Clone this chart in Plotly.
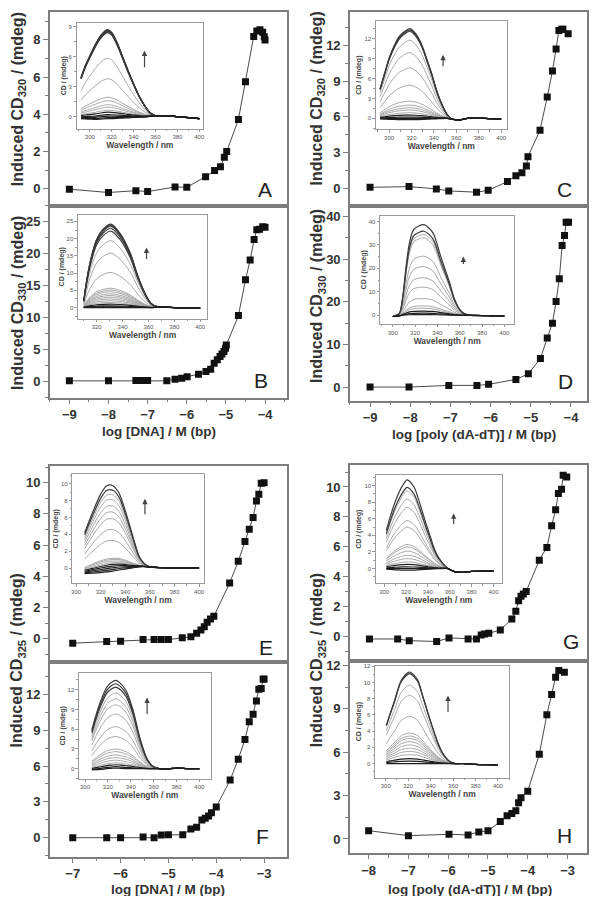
import plotly.graph_objects as go

# page has an 8px body margin; figure is drawn inside it
PAGE_W, PAGE_H = 603, 904
OFF = 8
W, H = PAGE_W - 2 * OFF, PAGE_H - 2 * OFF

# ---------------- main titration data ----------------
A_x = [-9.0, -8.0, -7.3, -7.0, -6.3, -6.0, -5.52, -5.29, -5.14, -5.04, -4.98, -4.68, -4.5, -4.29, -4.21, -4.13, -4.06, -4.02, -4.0]
A_y = [-0.02, -0.2, -0.1, -0.15, 0.1, 0.08, 0.65, 0.98, 1.18, 1.7, 2.0, 3.73, 5.75, 8.19, 8.48, 8.55, 8.41, 8.17, 8.0]

B_x = [-9.0, -8.0, -7.3, -7.15, -7.0, -6.51, -6.3, -6.13, -5.99, -5.7, -5.51, -5.39, -5.3, -5.22, -5.15, -5.1, -5.05, -5.01, -4.99, -4.68, -4.5, -4.38, -4.28, -4.21, -4.14, -4.06, -4.0]
B_y = [0.1, 0.1, 0.15, 0.15, 0.15, 0.1, 0.36, 0.5, 0.75, 1.15, 1.56, 1.93, 2.87, 3.4, 3.9, 4.3, 4.7, 5.2, 5.7, 10.3, 15.9, 19.0, 22.2, 23.7, 23.8, 24.2, 24.1]

C_x = [-9.0, -8.03, -7.35, -7.04, -6.35, -6.06, -5.58, -5.37, -5.22, -5.11, -5.07, -4.77, -4.59, -4.46, -4.37, -4.3, -4.23, -4.2, -4.07]
C_y = [0.08, 0.14, -0.05, -0.22, -0.33, -0.17, 0.56, 1.06, 1.31, 1.87, 2.65, 4.88, 7.67, 9.85, 11.7, 13.25, 13.35, 13.35, 12.97]

D_x = [-9.0, -8.03, -7.04, -6.34, -6.05, -5.37, -5.06, -4.76, -4.59, -4.46, -4.37, -4.29, -4.22, -4.16, -4.12, -4.06]
D_y = [0.0, 0.0, 0.39, 0.39, 0.63, 1.8, 3.1, 6.7, 11.5, 15.0, 20.1, 25.4, 33.2, 35.6, 38.7, 38.7]

E_x = [-7.0, -6.29, -6.0, -5.53, -5.3, -5.15, -5.0, -4.71, -4.53, -4.41, -4.32, -4.25, -4.19, -4.12, -4.05, -3.72, -3.54, -3.4, -3.31, -3.23, -3.16, -3.11, -3.06, -3.0]
E_y = [-0.28, -0.17, -0.15, -0.05, -0.05, -0.05, -0.05, 0.06, 0.13, 0.36, 0.57, 0.78, 1.06, 1.27, 1.44, 3.58, 4.96, 6.23, 7.02, 7.77, 8.83, 9.26, 9.96, 10.0]

F_x = [-7.0, -6.29, -6.0, -5.53, -5.3, -5.15, -5.0, -4.7, -4.53, -4.41, -4.3, -4.23, -4.16, -4.1, -4.0, -3.71, -3.54, -3.4, -3.31, -3.23, -3.16, -3.11, -3.06, -3.02, -3.0]
F_y = [0.0, 0.0, 0.0, 0.05, 0.0, 0.22, 0.25, 0.25, 0.73, 0.87, 1.48, 1.62, 1.82, 2.1, 2.57, 4.83, 6.58, 8.23, 9.71, 10.35, 11.46, 12.44, 12.5, 13.28, 13.3]

G_x = [-7.98, -7.27, -6.98, -6.29, -5.98, -5.5, -5.29, -5.17, -5.09, -4.98, -4.69, -4.4, -4.3, -4.23, -4.17, -4.11, -4.04, -3.71, -3.52, -3.4, -3.3, -3.23, -3.15, -3.11, -3.02]
G_y = [-0.16, -0.16, -0.27, -0.33, -0.09, -0.16, -0.16, 0.11, 0.18, 0.22, 0.44, 1.18, 1.69, 2.4, 2.69, 2.84, 3.02, 5.11, 5.96, 7.4, 8.47, 9.56, 9.84, 10.78, 10.67]

H_x = [-8.0, -7.0, -5.98, -5.5, -5.23, -5.0, -4.69, -4.52, -4.4, -4.3, -4.23, -4.17, -4.0, -3.71, -3.52, -3.4, -3.3, -3.22, -3.08]
H_y = [0.57, 0.23, 0.32, 0.28, 0.48, 0.57, 1.2, 1.61, 1.77, 1.95, 2.5, 2.85, 3.31, 5.86, 8.6, 10.0, 11.19, 11.66, 11.54]

# ---------------- inset CD spectra (normalised band shape, baseline, peak heights) ----------------
wl_A = [292, 296, 300, 305, 310, 316, 320, 325, 330, 335, 340, 345, 350, 355, 360, 370, 380, 390, 400]
prof_A = [0.46, 0.6, 0.71, 0.84, 0.94, 1.0, 0.97, 0.85, 0.69, 0.53, 0.38, 0.24, 0.13, 0.04, 0.0, 0.0, 0.0, 0.0, 0.0]
base_A = [-0.1, -0.1, -0.1, -0.1, -0.05, 0.0, 0.0, 0.0, 0.0, 0.0, 0.0, 0.0, 0.0, 0.05, 0.1, 0.1, 0.0, -0.1, -0.2]
amp_A = [8.7, 8.65, 8.6, 8.55, 8.5, 8.4, 5.85, 3.8, 1.95, 1.6, 1.2, 0.95, 0.65, 0.45, 0.2, 0.05, -0.1, -0.2]

wl_B = [310, 312, 315, 320, 325, 331, 338, 346, 352, 358, 362, 366, 370, 380, 390, 400]
prof_B = [0.08, 0.3, 0.55, 0.82, 0.94, 1.0, 0.89, 0.65, 0.37, 0.15, 0.05, 0.01, 0.0, 0.0, 0.0, 0.0]
base_B = [0.0, 0.0, 0.0, 0.0, 0.0, 0.0, 0.0, 0.0, 0.0, 0.0, 0.0, 0.1, 0.2, 0.0, -0.1, -0.2]
amp_B = [24.2, 24.0, 23.6, 23.0, 22.2, 19.4, 15.8, 10.2, 5.6, 5.1, 4.6, 4.0, 3.5, 3.0, 2.5, 2.0, 1.5, 1.0, 0.5, 0.2, 0.0]

wl_C = [292, 296, 300, 305, 309, 314, 318.5, 324, 329.5, 334, 338.5, 342, 346, 352, 356, 362, 370, 380, 390, 400]
prof_C = [0.33, 0.5, 0.67, 0.82, 0.91, 0.97, 1.0, 0.94, 0.81, 0.65, 0.48, 0.33, 0.19, 0.04, 0.0, 0.0, 0.0, 0.0, 0.0, 0.0]
base_C = [0.0, 0.0, 0.0, 0.0, 0.0, 0.0, 0.0, 0.0, 0.0, 0.0, 0.0, 0.0, 0.0, 0.0, -0.1, -0.25, 0.0, 0.1, -0.05, -0.1]
amp_C = [13.5, 13.3, 13.1, 11.75, 9.9, 7.6, 5.0, 2.6, 2.0, 1.6, 1.26, 0.85, 0.5, 0.2, 0.0, -0.2]

wl_D = [300, 306, 309, 312, 315, 319, 328, 336, 343, 351, 355, 360, 364, 370, 380, 390, 400]
prof_D = [0.0, 0.03, 0.21, 0.54, 0.8, 0.95, 1.0, 0.91, 0.65, 0.36, 0.19, 0.065, 0.02, 0.0, 0.0, 0.0, 0.0]
base_D = [-0.5, -0.3, 0.0, 0.0, 0.0, 0.0, 0.0, 0.0, 0.0, 0.0, 0.0, 0.0, 0.0, 0.0, -0.1, -0.2, -0.3]
amp_D = [38.6, 35.8, 34.4, 33.0, 25.2, 20.7, 16.0, 12.0, 7.1, 4.0, 3.0, 1.8, 0.9, 0.3]

wl_E = [307, 310, 315, 320, 325, 330, 335, 340, 346, 351, 355, 360, 370, 380, 390, 400]
prof_E = [0.47, 0.58, 0.75, 0.9, 0.99, 0.98, 0.88, 0.67, 0.37, 0.13, 0.04, 0.0, 0.0, 0.0, 0.0, 0.0]
base_E = [-0.5, -0.45, -0.35, -0.25, -0.15, -0.05, 0.05, 0.1, 0.15, 0.2, 0.2, 0.15, 0.05, 0.0, 0.0, 0.0]
amp_E = [10.0, 9.45, 8.9, 8.3, 7.55, 6.8, 6.0, 4.7, 3.4, 1.25, 1.1, 0.9, 0.7, 0.5, 0.3, 0.1, -0.1, -0.3]

wl_F = [306, 310, 314, 319, 323, 327, 331, 336, 342, 348, 354, 359, 365, 370, 380, 390, 400]
prof_F = [0.46, 0.64, 0.79, 0.93, 0.98, 1.0, 0.97, 0.89, 0.67, 0.35, 0.12, 0.03, 0.0, 0.0, 0.0, 0.0, 0.0]
base_F = [-0.2, -0.15, -0.1, 0.0, 0.05, 0.1, 0.05, 0.0, 0.0, 0.0, 0.0, 0.0, 0.0, -0.05, 0.1, 0.0, 0.0]
amp_F = [13.3, 12.8, 12.3, 11.4, 10.5, 9.6, 8.2, 6.3, 4.8, 2.9, 2.5, 2.0, 1.6, 1.2, 0.8, 0.5, 0.2, 0.0]

wl_G = [302, 306, 310.6, 316.6, 321, 327.3, 331, 334.8, 338.5, 342.5, 346, 350, 357.5, 365, 372, 380, 390, 400]
prof_G = [0.43, 0.6, 0.77, 0.93, 1.0, 0.92, 0.8, 0.65, 0.5, 0.35, 0.22, 0.12, 0.01, 0.0, 0.0, 0.0, 0.0, 0.0]
base_G = [0.0, 0.0, 0.0, 0.0, 0.0, 0.0, 0.0, 0.0, 0.0, 0.0, 0.0, 0.0, 0.0, -0.4, -0.45, -0.35, -0.3, -0.3]
amp_G = [10.7, 9.8, 9.4, 8.4, 7.4, 5.8, 5.0, 2.9, 2.6, 2.1, 1.6, 1.2, 0.8, 0.5, 0.2, 0.0, -0.2]

wl_H = [300.5, 304, 307.9, 313.8, 321.2, 328.6, 332, 336, 340, 343.5, 347, 350.9, 356.8, 362, 370, 380, 390, 400]
prof_H = [0.42, 0.55, 0.69, 0.91, 1.0, 0.91, 0.78, 0.62, 0.46, 0.33, 0.21, 0.11, 0.025, 0.0, 0.0, 0.0, 0.0, 0.0]
base_H = [0.0, 0.0, 0.0, 0.0, 0.0, 0.0, 0.0, 0.0, 0.0, 0.0, 0.0, 0.0, 0.0, 0.0, 0.0, -0.1, -0.15, -0.2]
amp_H = [11.3, 11.1, 9.67, 8.43, 5.84, 3.78, 3.4, 3.1, 2.7, 2.3, 1.9, 1.5, 1.1, 0.6, 0.3, 0.0]

# ---------------- text ----------------
panel_letters = ["A", "B", "C", "D", "E", "F", "G", "H"]
ytitle_320 = "<b>Induced CD<sub>320</sub> / (mdeg)</b>"
ytitle_330 = "<b>Induced CD<sub>330</sub> / (mdeg)</b>"
ytitle_325 = "<b>Induced CD<sub>325</sub> / (mdeg)</b>"
xtitle_dna = "<b>log [DNA] / M (bp)</b>"
xtitle_poly = "<b>log [poly (dA-dT)] / M (bp)</b>"
inset_xtitle = "Wavelength / nm"
inset_ytitle = "CD / (mdeg)"

FONT = "Liberation Sans, Arial, sans-serif"
FRAME = "#7d7d7d"

def dx(a, b):
    return [(a - OFF) / W, (b - OFF) / W]

def dy(top, bot):
    return [1 - (bot - OFF) / H, 1 - (top - OFF) / H]

def px(x):
    return (x - OFF) / W

def py(y):
    return 1 - (y - OFF) / H

fig = go.Figure()
layout = dict(width=W, height=H, margin=dict(l=0, r=0, t=0, b=0),
              paper_bgcolor="white", plot_bgcolor="white", showlegend=False,
              font=dict(family=FONT, color="#333"))
annotations = []

# main panels: (x, y, xdom px, ydom px, xrange, yrange, ydtick, show x labels)
main = [
    (A_x, A_y, (49, 287), (10, 204), (-9.5, -3.45), (-0.9, 9.5), 2, False),
    (B_x, B_y, (49, 287), (204, 397), (-9.5, -3.45), (-2.6, 27.5), 5, True),
    (C_x, C_y, (350.7, 589), (10, 204), (-9.5, -3.6), (-1.45, 14.8), 3, False),
    (D_x, D_y, (350.7, 589), (204, 400), (-9.5, -3.6), (-3.3, 42.6), 10, True),
    (E_x, E_y, (49, 287), (465, 661.7), (-7.48, -2.53), (-1.5, 11.07), 2, False),
    (F_x, F_y, (49, 287), (661.7, 856.7), (-7.48, -2.53), (-1.6, 14.7), 3, True),
    (G_x, G_y, (350.7, 589), (464.3, 660), (-8.47, -2.51), (-1.6, 11.45), 2, False),
    (H_x, H_y, (350.7, 589), (660, 853.3), (-8.47, -2.51), (-1.0, 12.35), 3, True),
]

for i, (xs, ys, xd, yd, xr, yr, ydt, showx) in enumerate(main, start=1):
    xa = "x" if i == 1 else f"x{i}"
    ya = "y" if i == 1 else f"y{i}"
    fig.add_trace(go.Scatter(x=xs, y=ys, xaxis=xa, yaxis=ya, mode="lines+markers",
                             line=dict(color="#4a4a4a", width=1),
                             marker=dict(symbol="square", size=7, color="#111")))
    layout["xaxis" if i == 1 else f"xaxis{i}"] = dict(
        domain=dx(*xd), range=list(xr), anchor=ya, dtick=1, tick0=0,
        showline=True, mirror=True, linecolor=FRAME, linewidth=1.5,
        showgrid=False, zeroline=False,
        ticks="outside" if showx else "", ticklen=4, tickcolor=FRAME, tickwidth=1.2,
        showticklabels=showx, tickfont=dict(size=13, weight="bold", color="#333"),
        minor=dict(ticks="outside" if showx else "", ticklen=2.5, dtick=0.5, tickcolor=FRAME),
    )
    layout["yaxis" if i == 1 else f"yaxis{i}"] = dict(
        domain=dy(*yd), range=list(yr), anchor=xa, dtick=ydt, tick0=0,
        showline=True, mirror=True, linecolor=FRAME, linewidth=1.5,
        showgrid=False, zeroline=False,
        ticks="outside", ticklen=5, tickcolor=FRAME, tickwidth=1.2,
        tickfont=dict(size=13, weight="bold", color="#333"),
        minor=dict(ticks="outside", ticklen=3, dtick=ydt / 2, tickcolor=FRAME),
    )

# insets: (wl, prof, base, amps, xdom px, ydom px, xrange, yrange, ydtick, arrow (x, tip y, len))
insets = [
    (wl_A, prof_A, base_A, amp_A, (76, 203), (20.7, 127), (288, 403.4), (-1.2, 9.4), 3, (350, 6.6, 18)),
    (wl_B, prof_B, base_B, amp_B, (77.3, 207.3), (213.3, 317.3), (305.5, 405.5), (-3.2, 26.9), 5, (358.5, 17.4, 13)),
    (wl_C, prof_C, base_C, amp_C, (376.7, 508.3), (19.3, 127.3), (288.2, 405), (-1.6, 14.6), 3, (348.2, 9.55, 13)),
    (wl_D, prof_D, base_D, amp_D, (381, 516), (214, 322.7), (288.7, 409), (-3.7, 42.5), 10, (363.3, 25.0, 9)),
    (wl_E, prof_E, base_E, amp_E, (71.7, 204), (473.3, 582.7), (297, 404), (-1.8, 11.1), 2, (356, 8.2, 17)),
    (wl_F, prof_F, base_F, amp_F, (78.3, 210.7), (672.7, 778.3), (294.7, 409.9), (-1.5, 14.5), 3, (354.3, 10.8, 18)),
    (wl_G, prof_G, base_G, amp_G, (376.7, 503.3), (474, 582.7), (292.4, 407.6), (-1.8, 11.3), 2, (363.6, 6.65, 12)),
    (wl_H, prof_H, base_H, amp_H, (376, 510.7), (665, 777.3), (290.5, 410), (-1.73, 12.1), 2, (355.5, 8.4, 18)),
]

for j, (wl, prof, base, amps, xd, yd, xr, yr, ydt, arr) in enumerate(insets):
    k = 9 + j
    xa, ya = f"x{k}", f"y{k}"
    top = max(amps)
    mid, dark = [], []
    for a in amps:
        if a >= 0.9 * top:
            dark.append((a, "#3a3a3a", 1.2))
        elif a <= 0.06 * top:
            dark.append((a, "#1e1e1e", 1.2))
        else:
            mid.append((a, "#a8a8a8", 1.0))
    for a, col, lw in mid + dark:
        yv = [a * p + b for p, b in zip(prof, base)]
        fig.add_trace(go.Scatter(x=wl, y=yv, xaxis=xa, yaxis=ya, mode="lines",
                                 line=dict(color=col, width=lw, shape="spline", smoothing=0.8),
                                 hoverinfo="skip"))
    layout[f"xaxis{k}"] = dict(
        domain=dx(*xd), range=list(xr), anchor=ya, dtick=20, tick0=300,
        showline=True, mirror=True, linecolor="#9a9a9a", linewidth=1,
        showgrid=False, zeroline=False, ticks="outside", ticklen=2.5, tickcolor="#9a9a9a",
        tickfont=dict(size=6, color="#555"),
        minor=dict(ticks="outside", ticklen=1.5, dtick=10, tickcolor="#9a9a9a"),
        title=dict(text=inset_xtitle, font=dict(size=8.5, weight="bold", color="#444"), standoff=1),
    )
    layout[f"yaxis{k}"] = dict(
        domain=dy(*yd), range=list(yr), anchor=xa, dtick=ydt, tick0=0,
        showline=True, mirror=True, linecolor="#9a9a9a", linewidth=1,
        showgrid=False, zeroline=False, ticks="outside", ticklen=2.5, tickcolor="#9a9a9a",
        tickfont=dict(size=6, color="#555"),
        minor=dict(ticks="outside", ticklen=1.5, dtick=ydt / 2, tickcolor="#9a9a9a"),
        title=dict(text=inset_ytitle, font=dict(size=7, weight="bold", color="#444"), standoff=1),
    )
    ax_, tip, ln = arr
    annotations.append(dict(xref=xa, yref=ya, x=ax_, y=tip, ax=0, ay=ln, text="",
                            showarrow=True, arrowhead=2, arrowsize=0.9, arrowwidth=1.2,
                            arrowcolor="#444"))

# panel letters
letter_pos = [(265.7, 188.3), (261.7, 379.3), (566.7, 188.3), (567.7, 380.7),
              (266, 646.7), (263.3, 836.7), (572.7, 640.7), (566.7, 835)]
for t, (lx, ly) in zip(panel_letters, letter_pos):
    annotations.append(dict(xref="paper", yref="paper", x=px(lx), y=py(ly), text=t,
                            showarrow=False, xanchor="center", yanchor="middle",
                            font=dict(size=21, color="#222")))

# y axis titles
for txt, tx, ty in [(ytitle_320, 17, 97.5), (ytitle_330, 17, 301.7), (ytitle_320, 318.3, 97),
                    (ytitle_330, 318.3, 295), (ytitle_325, 17, 660), (ytitle_325, 318.3, 660)]:
    annotations.append(dict(xref="paper", yref="paper", x=px(tx), y=py(ty), text=txt,
                            textangle=-90, showarrow=False, xanchor="center", yanchor="middle",
                            font=dict(size=16, color="#333")))

# x axis titles
for txt, tx, ty in [(xtitle_dna, 159, 430), (xtitle_poly, 475.8, 433),
                    (xtitle_dna, 168.3, 889), (xtitle_poly, 471.7, 889)]:
    annotations.append(dict(xref="paper", yref="paper", x=px(tx), y=py(ty), text=txt,
                            showarrow=False, xanchor="center", yanchor="middle",
                            font=dict(size=13.5, color="#333")))

layout["annotations"] = annotations
fig.update_layout(**layout)
fig.write_html("out.html")
